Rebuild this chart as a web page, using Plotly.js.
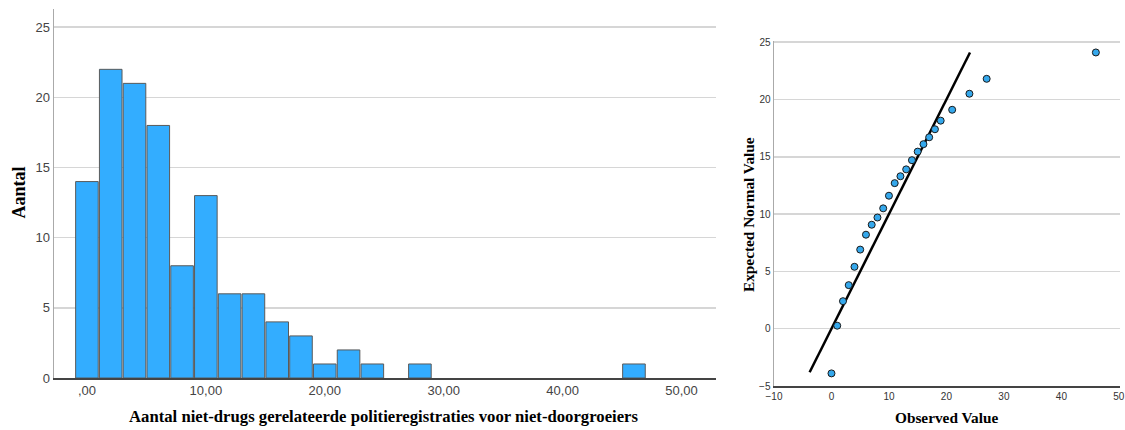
<!DOCTYPE html>
<html>
<head>
<meta charset="utf-8">
<script src="https://cdn.plot.ly/plotly-3.0.1.min.js"></script>
<style>html,body{margin:0;padding:0;background:#fff;}#chart{width:1125px;height:430px;}</style>
</head>
<body>
<div id="chart"></div>
<script>
// Histogram (bin centres, width 2) and counts
const binCenters = [0, 2, 4, 6, 8, 10, 12, 14, 16, 18, 20, 22, 24, 28, 46];
const binCounts  = [14, 22, 21, 18, 8, 13, 6, 6, 4, 3, 1, 2, 1, 1, 1];
const histTickVals = [0, 10, 20, 30, 40, 50];
const histTickText = [",00", "10,00", "20,00", "30,00", "40,00", "50,00"];

// Q-Q plot values
const observed = [0, 1, 2, 3, 4, 5, 6, 7, 8, 9, 10, 11, 12, 13, 14, 15, 16, 17, 18, 19, 21, 24, 27, 46];
const expected = [-3.9, 0.26, 2.4, 3.8, 5.4, 6.9, 8.2, 9.07, 9.7, 10.5, 11.6, 12.7, 13.3, 13.9, 14.7, 15.45, 16.1, 16.7, 17.4, 18.15, 19.1, 20.5, 21.8, 24.1];
const refLineX = [-3.8, 24.1];
const refLineY = [-3.8, 24.1];

const barTrace = {
  type: 'bar', x: binCenters, y: binCounts, width: 1.9,
  marker: {color: '#33adff', line: {color: '#5a5a5a', width: 1}},
  xaxis: 'x', yaxis: 'y', hoverinfo: 'skip', showlegend: false
};
const lineTrace = {
  type: 'scatter', mode: 'lines', x: refLineX, y: refLineY,
  line: {color: '#000', width: 2.5}, xaxis: 'x2', yaxis: 'y2', hoverinfo: 'skip', showlegend: false
};
const pointTrace = {
  type: 'scatter', mode: 'markers', x: observed, y: expected,
  marker: {color: '#35a8ec', size: 7, line: {color: '#1a1a1a', width: 1}},
  xaxis: 'x2', yaxis: 'y2', hoverinfo: 'skip', showlegend: false
};

const serifBold = {family: 'Liberation Serif, Times New Roman, serif', color: '#000'};

const layout = {
  width: 1125, height: 430,
  margin: {l: 0, r: 0, t: 0, b: 0},
  paper_bgcolor: '#fff', plot_bgcolor: '#fff',
  showlegend: false, hovermode: false,
  bargap: 0,
  xaxis: {
    domain: [54/1125, 716/1125], range: [-2.77, 52.9],
    tickvals: histTickVals, ticktext: histTickText,
    tickfont: {family: 'Liberation Sans, Arial, sans-serif', size: 13, color: '#444'},
    showgrid: false, zeroline: false, showline: true, linecolor: '#444', linewidth: 1.5,
    ticks: '', ticklen: 0, anchor: 'y', fixedrange: true
  },
  yaxis: {
    domain: [(430-378)/430, (430-9)/430], range: [0, 26.3],
    tickvals: [0, 5, 10, 15, 20, 25],
    tickfont: {family: 'Liberation Sans, Arial, sans-serif', size: 13, color: '#444'},
    showgrid: true, gridcolor: '#d6d6d6', gridwidth: 1.5,
    zeroline: false, showline: true, linecolor: '#aaa', linewidth: 1.5,
    ticks: '', anchor: 'x', fixedrange: true
  },
  xaxis2: {
    domain: [774/1125, 1120/1125], range: [-10, 50.2],
    tickvals: [-10, 0, 10, 20, 30, 40, 50],
    tickfont: {family: 'Liberation Sans, Arial, sans-serif', size: 10, color: '#333'},
    showgrid: false, zeroline: false, showline: true, linecolor: '#444', linewidth: 1.5,
    ticks: '', anchor: 'y2', fixedrange: true
  },
  yaxis2: {
    domain: [(430-386)/430, (430-41)/430], range: [-5, 25.1],
    tickvals: [-5, 0, 5, 10, 15, 20, 25],
    tickfont: {family: 'Liberation Sans, Arial, sans-serif', size: 10, color: '#333'},
    showgrid: true, gridcolor: '#d6d6d6', gridwidth: 1.5,
    zeroline: false, showline: true, linecolor: '#aaa', linewidth: 1.5,
    ticks: '', anchor: 'x2', fixedrange: true
  },
  annotations: [
    {text: '<b>Aantal</b>', xref: 'paper', yref: 'paper', x: 18/1125, y: (430-192.5)/430,
     textangle: -90, showarrow: false, font: Object.assign({size: 18}, serifBold), xanchor: 'center', yanchor: 'middle'},
    {text: '<b>Aantal niet-drugs gerelateerde politieregistraties voor niet-doorgroeiers</b>', xref: 'paper', yref: 'paper',
     x: 384/1125, y: (430-416)/430, showarrow: false, font: Object.assign({size: 16.7}, serifBold), xanchor: 'center', yanchor: 'middle'},
    {text: '<b>Expected Normal Value</b>', xref: 'paper', yref: 'paper', x: 748/1125, y: (430-215)/430,
     textangle: -90, showarrow: false, font: Object.assign({size: 15.3}, serifBold), xanchor: 'center', yanchor: 'middle'},
    {text: '<b>Observed Value</b>', xref: 'paper', yref: 'paper', x: 946/1125, y: (430-417)/430,
     showarrow: false, font: Object.assign({size: 15.3}, serifBold), xanchor: 'center', yanchor: 'middle'}
  ]
};

Plotly.newPlot('chart', [barTrace, lineTrace, pointTrace], layout, {displayModeBar: false, staticPlot: true});
</script>
</body>
</html>
